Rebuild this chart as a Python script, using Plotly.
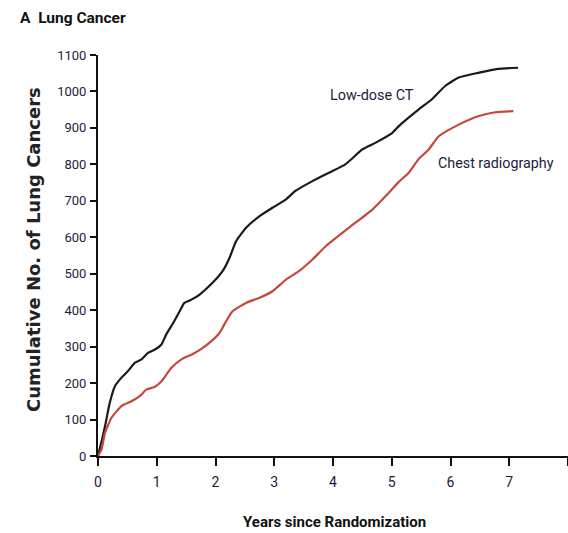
import plotly.graph_objects as go

# Low-dose CT (black)
ct_years = [0, 0.06, 0.12, 0.2, 0.29, 0.4, 0.51, 0.63, 0.74, 0.85, 0.97, 1.08, 1.16,
            1.28, 1.39, 1.47, 1.59, 1.73, 1.95, 2.12, 2.24, 2.35, 2.52, 2.75, 2.97,
            3.2, 3.36, 3.65, 3.93, 4.21, 4.5, 4.72, 5.0, 5.12, 5.46, 5.68, 5.91,
            6.14, 6.47, 6.81, 7.15]
ct_counts = [0, 40, 82, 146, 192, 215, 233, 256, 265, 283, 292, 306, 333,
             365, 397, 420, 429, 443, 475, 507, 544, 589, 626, 658, 681,
             704, 727, 754, 777, 800, 841, 859, 885, 905, 951, 978, 1015,
             1038, 1051, 1062, 1065]

# Chest radiography (red)
cxr_years = [0, 0.06, 0.12, 0.23, 0.4, 0.57, 0.71, 0.82, 0.97, 1.08, 1.25, 1.42,
             1.59, 1.76, 1.93, 2.07, 2.15, 2.29, 2.52, 2.75, 2.97, 3.2, 3.42, 3.65,
             3.88, 4.27, 4.67, 4.95, 5.12, 5.29, 5.46, 5.63, 5.8, 6.14, 6.47, 6.76, 7.07]
cxr_counts = [0, 18, 64, 105, 137, 150, 164, 182, 190, 205, 242, 265,
              278, 294, 315, 338, 361, 397, 420, 434, 452, 484, 507, 539,
              576, 626, 676, 722, 752, 777, 815, 841, 877, 909, 932, 943, 946]

x_ticks = [0, 1, 2, 3, 4, 5, 6, 7, 8]
y_ticks = [0, 100, 200, 300, 400, 500, 600, 700, 800, 900, 1000, 1100]

NARROW = "Roboto, Liberation Sans, sans-serif"
TICKCOL = "#1c1c40"

fig = go.Figure()
fig.add_trace(go.Scatter(x=ct_years, y=ct_counts, mode="lines",
                         line=dict(color="#1a1a1a", width=2.2, shape="spline", smoothing=0.5),
                         showlegend=False))
fig.add_trace(go.Scatter(x=cxr_years, y=cxr_counts, mode="lines",
                         line=dict(color="#c4493b", width=2.2, shape="spline", smoothing=0.5),
                         showlegend=False))

fig.update_layout(
    width=568, height=533,
    margin=dict(l=98, r=0, t=55, b=77),
    paper_bgcolor="white", plot_bgcolor="white",
)

fig.add_annotation(x=3.91, y=989, xref="x", yref="y", text="Low-dose CT",
                   showarrow=False, xanchor="left", yanchor="middle",
                   font=dict(family=NARROW, size=14.4, color="#1c1c40"))
fig.add_annotation(x=5.75, y=805, xref="x", yref="y", text="Chest radiography",
                   showarrow=False, xanchor="left", yanchor="middle",
                   font=dict(family=NARROW, size=14.3, color="#1c1c40"))
fig.add_annotation(x=-80 / 470, y=1 + 37 / 401, xref="paper", yref="paper",
                   text="<b>A</b>  <b>Lung Cancer</b>", showarrow=False,
                   xanchor="left", yanchor="middle",
                   font=dict(family=NARROW, size=15.5, color="#111111"))
fig.add_annotation(x=-65 / 470, y=(456 - 250) / 401, xref="paper", yref="paper",
                   text="<b>Cumulative No. of Lung Cancers</b>", showarrow=False,
                   textangle=-90, xanchor="center", yanchor="middle",
                   font=dict(family="DejaVu Sans", size=18, color="#222222"))
fig.add_annotation(x=(334 - 98) / 470, y=-(522 - 456) / 401, xref="paper", yref="paper",
                   text="<b>Years since Randomization</b>", showarrow=False,
                   xanchor="center", yanchor="middle",
                   font=dict(family=NARROW, size=15, color="#111111"))

fig.update_xaxes(range=[0, 8], tickvals=x_ticks, ticktext=[str(v) for v in x_ticks],
                 showgrid=False, zeroline=False, showline=True, linecolor="#111111",
                 linewidth=2, ticks="outside", ticklen=8, tickwidth=2, tickcolor="#111111",
                 ticklabelstandoff=4,
                 tickfont=dict(family=NARROW, size=14, color=TICKCOL))
fig.update_yaxes(range=[0, 1100], tickvals=y_ticks, ticktext=[str(v) for v in y_ticks],
                 showgrid=False, zeroline=False, showline=True, linecolor="#111111",
                 linewidth=2, ticks="outside", ticklen=6, tickwidth=2, tickcolor="#111111",
                 ticklabelstandoff=1,
                 tickfont=dict(family=NARROW, size=13, color=TICKCOL))

fig.write_html("out.html")
